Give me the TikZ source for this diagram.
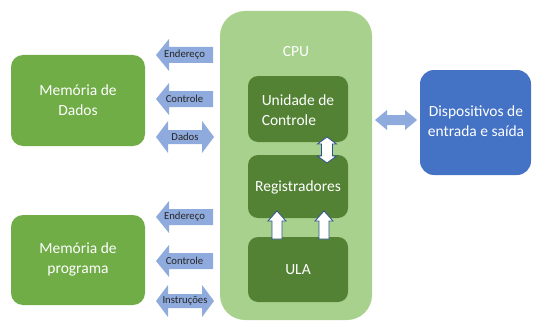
\documentclass[tikz,border=0pt]{standalone}
\usepackage{fontspec}
\setmainfont{Carlito}
\definecolor{memgreen}{HTML}{70AD47}
\definecolor{cpugreen}{HTML}{A9D18E}
\definecolor{unitgreen}{HTML}{548235}
\definecolor{busblue}{HTML}{8FAADC}
\definecolor{iobox}{HTML}{4472C4}
\definecolor{edgeblue}{HTML}{2F528F}

% bus arrow pointing left: name, x of tip, x of tail, y of axis, label
\newcommand{\busleft}[5]{%
  \fill[busarrow] (#2,#4) -- ({#2+13},{#4-16}) -- ({#2+13},{#4-8}) -- (#3,{#4-8})
    -- (#3,{#4+8}) -- ({#2+13},{#4+8}) -- ({#2+13},{#4+16}) -- cycle;
  \node[buslabel] (#1) at ({(#2+#3)/2},#4) {#5};}
% bus arrow with heads at both ends: name, x left tip, x right tip, y of axis, label
\newcommand{\busboth}[5]{%
  \fill[busarrow] (#2,#4) -- ({#2+12},{#4-16}) -- ({#2+12},{#4-7}) -- ({#3-12},{#4-7})
    -- ({#3-12},{#4-16}) -- (#3,#4) -- ({#3-12},{#4+16}) -- ({#3-12},{#4+7})
    -- ({#2+12},{#4+7}) -- ({#2+12},{#4+16}) -- cycle;
  \node[buslabel] (#1) at ({(#2+#3)/2},#4) {#5};}

\tikzset{
  membox/.style={fill=memgreen, rounded corners=12pt, text=white, align=center,
    font=\fontsize{15.5}{20}\selectfont},
  unitbox/.style={fill=unitgreen, rounded corners=10pt, text=white,
    font=\fontsize{15.5}{20}\selectfont},
  busarrow/.style={fill=busblue},
  buslabel/.style={font=\fontsize{10.7}{12}\selectfont, text=black!85, inner sep=0pt},
  flowarrow/.style={fill=white, draw=edgeblue, line width=0.8pt, line join=miter},
}

\begin{document}
\begin{tikzpicture}[x=1pt,y=-1pt]
\useasboundingbox (0,0) rectangle (535,321);

% memories
\path[membox] (11,55) rectangle (145,146);
\node[membox, fill=none] (memdados) at (78,100) {Memória de\\Dados};
\path[membox] (11,215) rectangle (145,305);
\node[membox, fill=none] (memprog) at (78,259) {Memória de\\programa};

% buses to the memories
\busleft{enddados}{156}{213}{55}{Endereço}
\busleft{ctrldados}{156}{213}{99}{Controle}
\busboth{dados}{156}{214}{137}{Dados}
\busleft{endprog}{156}{213}{217}{Endereço}
\busleft{ctrlprog}{156}{213}{261}{Controle}
\busboth{instr}{156}{214}{301}{Instruções}

% CPU
\fill[cpugreen, rounded corners=25pt] (220,11) rectangle (372,320);
\node[text=white, font=\fontsize{15.5}{20}\selectfont] (cpu) at (296,52) {CPU};
\fill[unitbox] (248,76) rectangle (348,142);
\node[unitbox, fill=none, align=left] (uc) at (298,110) {Unidade de\\Controle};
\fill[unitbox] (248,155) rectangle (348,218);
\node[unitbox, fill=none] (reg) at (298,187) {Registradores};
\fill[unitbox] (248,237) rectangle (348,302);
\node[unitbox, fill=none] (ula) at (298,270) {ULA};

% data paths inside the CPU
\draw[flowarrow] (327,137) -- (336.5,144) -- (332.5,144) -- (332.5,156) -- (336.5,156)
  -- (327,163) -- (317.5,156) -- (321.5,156) -- (321.5,144) -- (317.5,144) -- cycle;
\draw[flowarrow] (277,211) -- (286,221) -- (282,221) -- (282,239) -- (272,239)
  -- (272,221) -- (268,221) -- cycle;
\draw[flowarrow] (324,211) -- (333,221) -- (329,221) -- (329,239) -- (319,239)
  -- (319,221) -- (315,221) -- cycle;

% input / output
\fill[iobox, rounded corners=14pt] (420,70) rectangle (531,175);
\node[text=white, align=center, font=\fontsize{15.5}{20}\selectfont] (io) at (476,121)
  {Dispositivos de\\entrada e saída};
\fill[busarrow] (375,120) -- (387,110) -- (387,115) -- (405,115) -- (405,110) -- (417,120)
  -- (405,130) -- (405,125) -- (387,125) -- (387,130) -- cycle;
\end{tikzpicture}
\end{document}
